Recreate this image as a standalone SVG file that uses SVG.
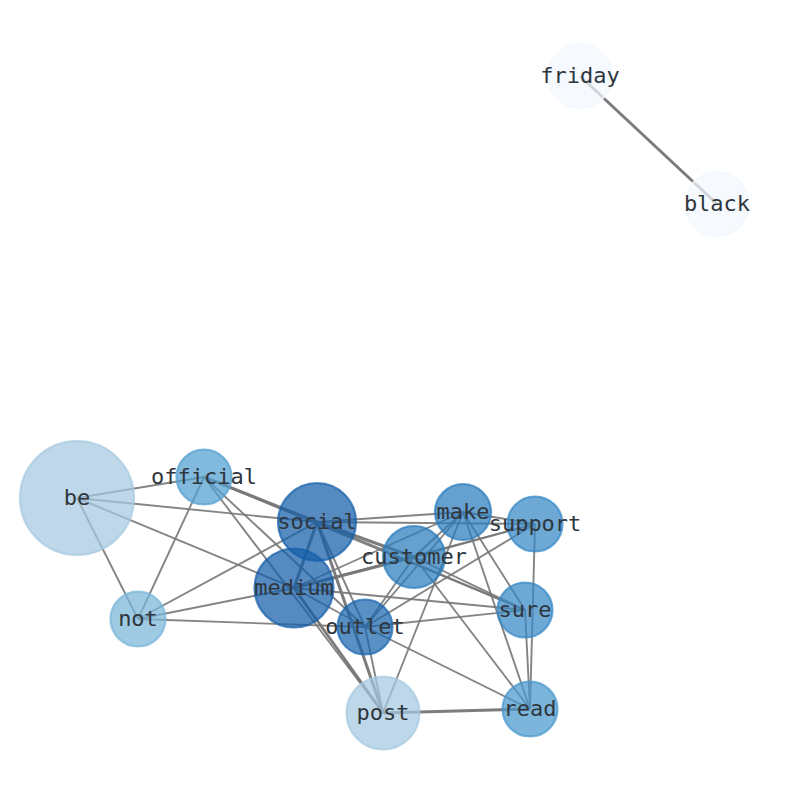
<svg xmlns="http://www.w3.org/2000/svg" width="794" height="790" viewBox="0 0 794 790">
<style>
.bg{fill:#ffffff}
#edges line{stroke:#777777;stroke-opacity:0.9;stroke-width:1.9;stroke-linecap:butt}
#edges line.t{stroke-width:3;stroke:#6e6e6e}
.n circle{fill-opacity:0.72;stroke-opacity:0.72;stroke-width:2.2}
.n text{font-family:"DejaVu Sans Mono","Liberation Mono",monospace;font-size:22px;fill:#2f363d;text-anchor:middle}
</style>
<rect class="bg" x="0" y="0" width="794" height="790"/>
<g id="edges">
<line class="t" x1="580" y1="76" x2="717" y2="204"/>
<line x1="77" y1="498" x2="204" y2="477"/>
<line x1="77" y1="498" x2="317" y2="522"/>
<line x1="77" y1="498" x2="294" y2="588"/>
<line x1="77" y1="498" x2="138" y2="619"/>
<line x1="204" y1="477" x2="138" y2="619"/>
<line class="t" x1="204" y1="477" x2="317" y2="522"/>
<line x1="204" y1="477" x2="525" y2="610"/>
<line x1="204" y1="477" x2="365" y2="627"/>
<line x1="204" y1="477" x2="383" y2="713"/>
<line class="t" x1="317" y1="522" x2="294" y2="588"/>
<line x1="317" y1="522" x2="463" y2="512"/>
<line x1="317" y1="522" x2="535" y2="524"/>
<line class="t" x1="317" y1="522" x2="414" y2="557"/>
<line x1="317" y1="522" x2="525" y2="610"/>
<line x1="317" y1="522" x2="365" y2="627"/>
<line class="t" x1="317" y1="522" x2="383" y2="713"/>
<line x1="317" y1="522" x2="138" y2="619"/>
<line x1="294" y1="588" x2="138" y2="619"/>
<line class="t" x1="294" y1="588" x2="414" y2="557"/>
<line x1="294" y1="588" x2="535" y2="524"/>
<line x1="294" y1="588" x2="463" y2="512"/>
<line x1="294" y1="588" x2="525" y2="610"/>
<line x1="294" y1="588" x2="365" y2="627"/>
<line class="t" x1="294" y1="588" x2="383" y2="713"/>
<line x1="138" y1="619" x2="365" y2="627"/>
<line x1="414" y1="557" x2="463" y2="512"/>
<line x1="414" y1="557" x2="535" y2="524"/>
<line x1="414" y1="557" x2="525" y2="610"/>
<line x1="414" y1="557" x2="365" y2="627"/>
<line x1="414" y1="557" x2="530" y2="709"/>
<line x1="463" y1="512" x2="535" y2="524"/>
<line x1="463" y1="512" x2="525" y2="610"/>
<line x1="463" y1="512" x2="530" y2="709"/>
<line x1="463" y1="512" x2="383" y2="713"/>
<line x1="463" y1="512" x2="365" y2="627"/>
<line x1="535" y1="524" x2="365" y2="627"/>
<line x1="535" y1="524" x2="530" y2="709"/>
<line x1="525" y1="610" x2="530" y2="709"/>
<line x1="525" y1="610" x2="365" y2="627"/>
<line x1="365" y1="627" x2="530" y2="709"/>
<line x1="365" y1="627" x2="383" y2="713"/>
<line class="t" x1="383" y1="713" x2="530" y2="709"/>
</g>
<g id="node-friday" class="n"><circle cx="580" cy="76" r="32" fill="#f3f8fd" stroke="#f3f8fd"/><text x="580" y="83">friday</text></g>
<g id="node-black" class="n"><circle cx="717" cy="204" r="32" fill="#f3f8fd" stroke="#f3f8fd"/><text x="717" y="211">black</text></g>
<g id="node-be" class="n"><circle cx="77" cy="498" r="57" fill="#a5c9e1" stroke="#a5c9e1"/><text x="77" y="505">be</text></g>
<g id="node-official" class="n"><circle cx="204" cy="477" r="27.5" fill="#529fd1" stroke="#529fd1"/><text x="204" y="484">official</text></g>
<g id="node-not" class="n"><circle cx="138" cy="619" r="27.5" fill="#79b5da" stroke="#79b5da"/><text x="138" y="626">not</text></g>
<g id="node-social" class="n"><circle cx="317" cy="522" r="39" fill="#135ea9" stroke="#135ea9"/><text x="317" y="529">social</text></g>
<g id="node-medium" class="n"><circle cx="294" cy="588" r="39.5" fill="#135ea9" stroke="#135ea9"/><text x="294" y="595">medium</text></g>
<g id="node-make" class="n"><circle cx="463" cy="512" r="28" fill="#297cbc" stroke="#297cbc"/><text x="463" y="519">make</text></g>
<g id="node-customer" class="n"><circle cx="414" cy="557" r="31" fill="#297cbc" stroke="#297cbc"/><text x="414" y="564">customer</text></g>
<g id="node-support" class="n"><circle cx="535" cy="524" r="27.5" fill="#3688c6" stroke="#3688c6"/><text x="535" y="531">support</text></g>
<g id="node-sure" class="n"><circle cx="525" cy="610" r="27.5" fill="#3688c6" stroke="#3688c6"/><text x="525" y="617">sure</text></g>
<g id="node-outlet" class="n"><circle cx="365" cy="627" r="27.5" fill="#1a66ae" stroke="#1a66ae"/><text x="365" y="634">outlet</text></g>
<g id="node-post" class="n"><circle cx="383" cy="713" r="36.5" fill="#a5c9e1" stroke="#a5c9e1"/><text x="383" y="720">post</text></g>
<g id="node-read" class="n"><circle cx="530" cy="709" r="27.5" fill="#4898cd" stroke="#4898cd"/><text x="530" y="716">read</text></g>
</svg>
